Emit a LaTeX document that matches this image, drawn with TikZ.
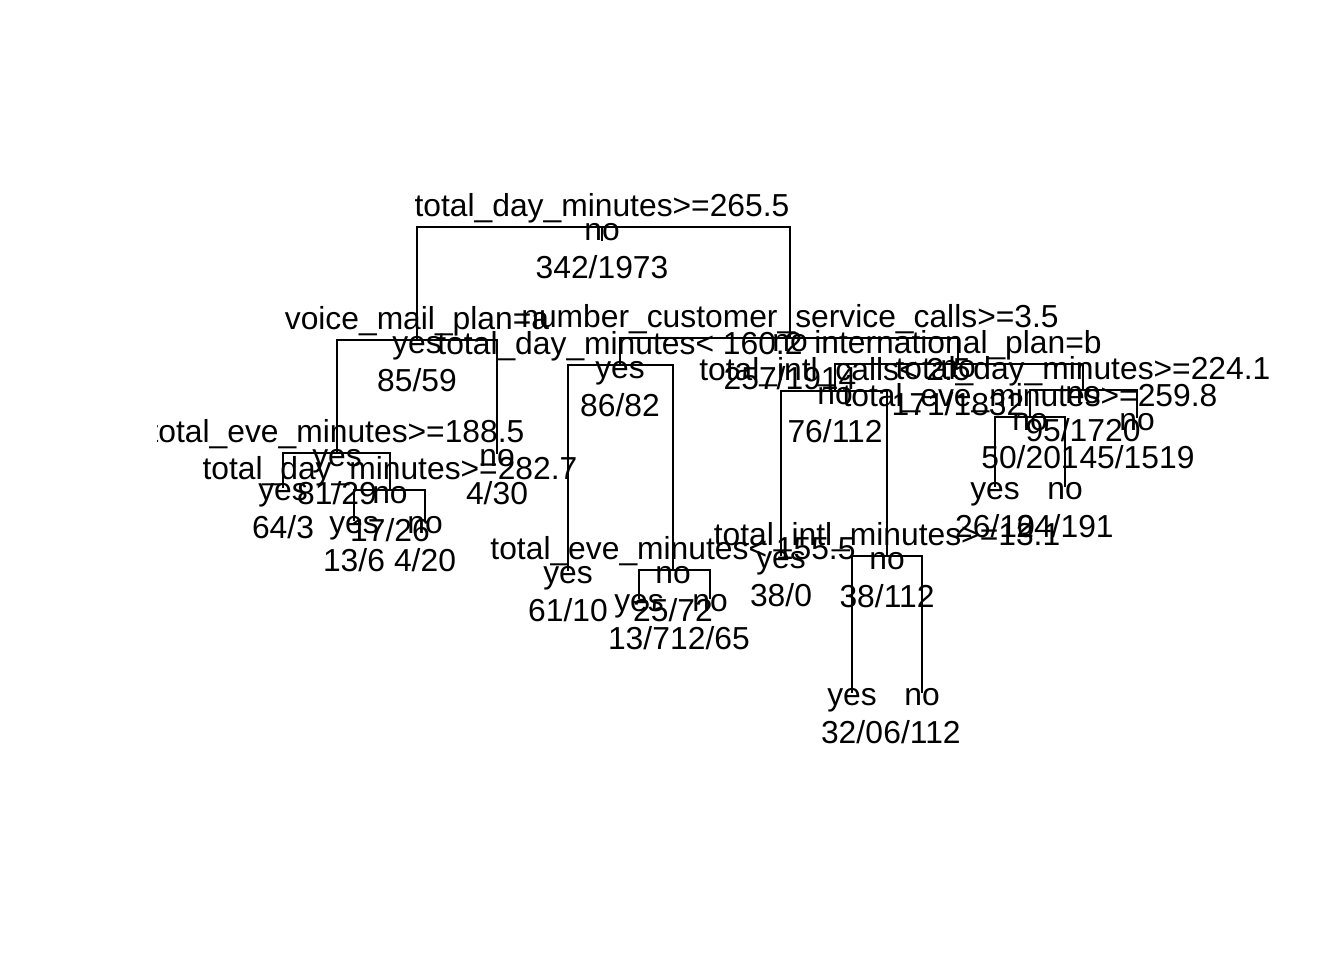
\documentclass[tikz,border=0pt]{standalone}
\usepackage{fontspec}
\setmainfont{Liberation Sans}
\newcommand\rtinner[6]{%
  \coordinate (#1) at ({#2},{#3});
  \node[lbl] (#1s) at ({#2},{#3-10.5}) {#4};
  \node[lbl] (#1c) at ({#2},{#3+13.5}) {#5};
  \node[lbl] (#1n) at ({#2},{#3+51}) {#6};
}
\newcommand\rtleaf[5]{%
  \coordinate (#1) at ({#2},{#3});
  \node[lbl] (#1c) at ({#2},{#3+13.5}) {#4};
  \node[lbl] (#1n) at ({#2},{#3+51}) {#5};
}
\begin{document}
\begin{tikzpicture}[x=0.5pt,y=-0.5pt,
  lbl/.style={inner sep=0pt,anchor=base,font=\fontsize{15.9}{19}\selectfont},
  edge/.style={line width=1.2pt,line cap=rect}]
\fill[white] (0,0) rectangle (1344,960);
\useasboundingbox (0,0) rectangle (1344,960);
\begin{scope}
\clip (157,0) rectangle (1344,960);
% internal nodes and leaves
\rtinner{R}{602}{227}{total\_day\_minutes>=265.5}{no}{342/1973}
\rtinner{A}{417}{340}{voice\_mail\_plan=a}{yes}{85/59}
\rtinner{B}{790}{338}{number\_customer\_service\_calls>=3.5}{no}{257/1914}
\rtinner{Aa}{337}{453}{total\_eve\_minutes>=188.5}{yes}{81/29}
\rtleaf{Ab}{497}{453}{no}{4/30}
\rtleaf{Aaa}{283}{487}{yes}{64/3}
\rtinner{Aab}{390}{490}{total\_day\_minutes>=282.7}{no}{17/26}
\rtleaf{Aaba}{354}{520}{yes}{13/6}
\rtleaf{Aabb}{425}{520}{no}{4/20}
\rtinner{Ba}{620}{365}{total\_day\_minutes< 160.2}{yes}{86/82}
\rtinner{Bb}{958}{364}{international\_plan=b}{no}{171/1832}
\rtleaf{Baa}{568}{570}{yes}{61/10}
\rtinner{Bab}{673}{570}{total\_eve\_minutes< 155.5}{no}{25/72}
\rtleaf{Baba}{639}{598}{yes}{13/7}
\rtleaf{Babb}{710}{598}{no}{12/65}
\rtinner{Bba}{835}{391}{total\_intl\_calls< 2.5}{no}{76/112}
\rtinner{Bbb}{1083}{390}{total\_day\_minutes>=224.1}{no}{95/1720}
\rtleaf{Bbaa}{781}{555}{yes}{38/0}
\rtinner{Bbab}{887}{556}{total\_intl\_minutes>=13.1}{no}{38/112}
\rtleaf{Bbaba}{852}{692}{yes}{32/0}
\rtleaf{Bbabb}{922}{692}{no}{6/112}
\rtinner{Bbba}{1030}{417}{total\_eve\_minutes>=259.8}{no}{50/201}
\rtleaf{Bbbb}{1137}{417}{no}{45/1519}
\rtleaf{Bbbaa}{995}{486}{yes}{26/10}
\rtleaf{Bbbab}{1065}{486}{no}{24/191}
% branches
\coordinate (Rstub) at (602,240);
\draw[edge] (R) -- (Rstub);
\draw[edge] (R) -| (A);
\draw[edge] (R) -| (B);
\draw[edge] (A) -| (Aa);
\draw[edge] (A) -| (Ab);
\draw[edge] (Aa) -| (Aaa);
\draw[edge] (Aa) -| (Aab);
\draw[edge] (Aab) -| (Aaba);
\draw[edge] (Aab) -| (Aabb);
\draw[edge] (B) -| (Ba);
\draw[edge] (B) -| (Bb);
\draw[edge] (Ba) -| (Baa);
\draw[edge] (Ba) -| (Bab);
\draw[edge] (Bab) -| (Baba);
\draw[edge] (Bab) -| (Babb);
\draw[edge] (Bb) -| (Bba);
\draw[edge] (Bb) -| (Bbb);
\draw[edge] (Bba) -| (Bbaa);
\draw[edge] (Bba) -| (Bbab);
\draw[edge] (Bbab) -| (Bbaba);
\draw[edge] (Bbab) -| (Bbabb);
\draw[edge] (Bbb) -| (Bbba);
\draw[edge] (Bbb) -| (Bbbb);
\draw[edge] (Bbba) -| (Bbbaa);
\draw[edge] (Bbba) -| (Bbbab);
\end{scope}
\end{tikzpicture}
\end{document}
